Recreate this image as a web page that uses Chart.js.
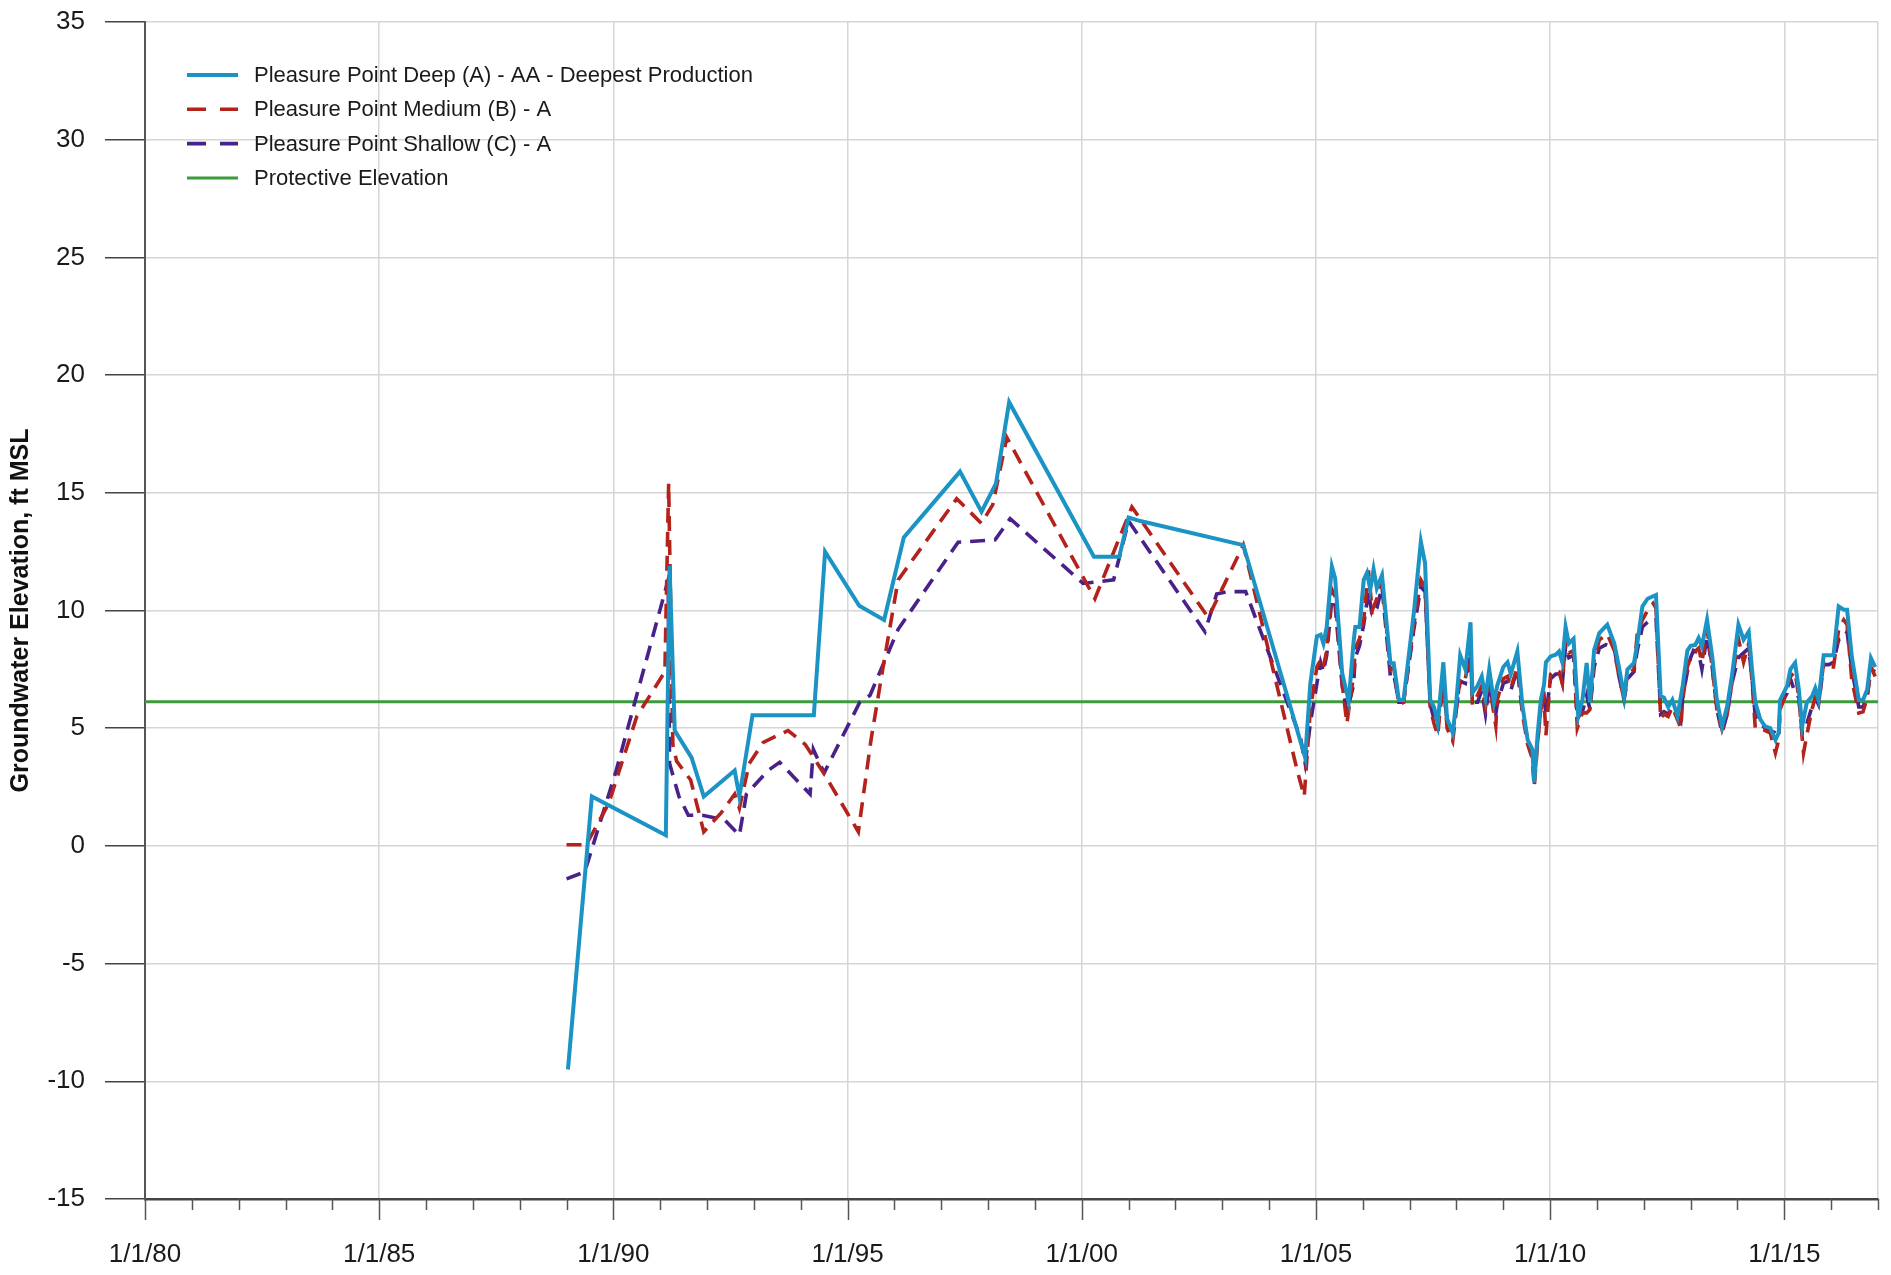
<!DOCTYPE html>
<html>
<head>
<meta charset="utf-8">
<title>Pleasure Point groundwater elevation</title>
<script src="https://cdn.jsdelivr.net/npm/chart.js@4.4.1/dist/chart.umd.min.js"></script>
<style>
  html, body { margin: 0; padding: 0; background: #fff; }
  #wrap { width: 1891px; height: 1275px; }
</style>
</head>
<body>
<div id="wrap"><canvas id="gwChart" width="1891" height="1275"></canvas></div>
<script>
// decimal years and elevations (ft MSL) for each well
const deepYears = [
  1989.03, 1989.54, 1991.12, 1991.20, 1991.31, 1991.67, 1991.93, 1992.59, 1992.69, 1992.97,
  1994.28, 1994.52, 1995.25, 1995.78, 1996.20, 1997.40, 1997.86, 1998.17, 1998.45, 2000.26,
  2000.80, 2001.00, 2001.25, 2003.45, 2004.77, 2004.88, 2005.02, 2005.10, 2005.16, 2005.23,
  2005.34, 2005.41, 2005.56, 2005.70, 2005.80, 2005.84, 2005.93, 2006.02, 2006.09, 2006.16,
  2006.23, 2006.30, 2006.41, 2006.59, 2006.66, 2006.77, 2006.87, 2007.09, 2007.24, 2007.33,
  2007.44, 2007.52, 2007.60, 2007.72, 2007.80, 2007.92, 2008.00, 2008.08, 2008.19, 2008.30,
  2008.34, 2008.45, 2008.54, 2008.62, 2008.70, 2008.80, 2008.87, 2009.00, 2009.09, 2009.16,
  2009.30, 2009.41, 2009.52, 2009.62, 2009.66, 2009.73, 2009.80, 2009.87, 2009.91, 2010.01,
  2010.12, 2010.19, 2010.26, 2010.33, 2010.40, 2010.50, 2010.60, 2010.69, 2010.78, 2010.85,
  2010.94, 2011.05, 2011.22, 2011.37, 2011.47, 2011.58, 2011.65, 2011.79, 2011.86, 2011.97,
  2012.08, 2012.26, 2012.36, 2012.43, 2012.52, 2012.61, 2012.72, 2012.83, 2012.93, 2013.00,
  2013.10, 2013.17, 2013.24, 2013.35, 2013.46, 2013.56, 2013.67, 2013.78, 2013.88, 2014.02,
  2014.13, 2014.24, 2014.31, 2014.38, 2014.49, 2014.59, 2014.70, 2014.81, 2014.88, 2014.91,
  2015.06, 2015.13, 2015.23, 2015.31, 2015.38, 2015.48, 2015.59, 2015.66, 2015.73, 2015.84,
  2015.95, 2016.05, 2016.16, 2016.27, 2016.34, 2016.44, 2016.59, 2016.68, 2016.77, 2016.85,
  2016.94
];
const deepElev = [
  -9.5, 2.1, 0.45, 11.9, 4.9, 3.75, 2.1, 3.2, 2.1, 5.55,
  5.55, 12.5, 10.2, 9.6, 13.1, 15.9, 14.2, 15.4, 18.85, 12.28,
  12.28, 13.95, 13.8, 12.78, 3.75, 6.9, 8.9, 8.97, 8.6, 9.3,
  11.87, 11.37, 7.34, 6.14, 8.6, 9.3, 9.3, 11.3, 11.6, 10.9,
  11.75, 10.95, 11.5, 7.76, 7.76, 6.2, 6.2, 9.9, 12.93, 12.0,
  6.2, 5.9, 5.2, 7.8, 5.4, 4.8, 6.2, 8.1, 7.5, 9.5,
  6.5, 6.8, 7.2, 6.3, 7.5, 6.1, 6.8, 7.6, 7.8, 7.3,
  8.26, 5.93, 4.5, 4.1, 2.7, 4.66, 6.2, 6.85, 7.8, 8.05,
  8.12, 8.26, 7.8, 9.3, 8.6, 8.8, 5.5, 6.2, 7.77, 6.1,
  8.33, 9.04, 9.4, 8.6, 7.6, 6.35, 7.5, 7.77, 8.6, 10.17,
  10.5, 10.66, 6.35, 6.3, 5.9, 6.2, 5.5, 6.8, 8.3, 8.5,
  8.54, 8.83, 8.48, 9.6, 8.05, 6.2, 5.08, 5.93, 7.2, 9.4,
  8.76, 9.1, 7.5, 6.1, 5.36, 5.08, 5.0, 4.5, 4.8, 6.2,
  6.8, 7.5, 7.77, 6.64, 5.08, 6.1, 6.35, 6.7, 6.2, 8.1,
  8.1, 8.1, 10.17, 10.03, 10.03, 8.05, 6.2, 6.2, 6.64, 7.98,
  7.6
];

const mediumYears = [
  1989.00, 1989.42, 1989.90, 1990.50, 1991.10, 1991.18, 1991.27, 1991.35, 1991.65, 1991.93,
  1992.30, 1992.59, 1992.69, 1992.90, 1993.20, 1993.73, 1994.10, 1994.52, 1995.23, 1995.50,
  1995.75, 1996.08, 1997.33, 1997.86, 1998.10, 1998.40, 2000.28, 2001.07, 2002.70, 2003.45,
  2004.60, 2004.75, 2004.88, 2005.02, 2005.10, 2005.16, 2005.23, 2005.34, 2005.41, 2005.56,
  2005.66, 2005.80, 2005.84, 2005.93, 2006.02, 2006.12, 2006.20, 2006.30, 2006.41, 2006.59,
  2006.66, 2006.77, 2006.87, 2007.09, 2007.24, 2007.33, 2007.44, 2007.52, 2007.60, 2007.72,
  2007.80, 2007.92, 2008.00, 2008.08, 2008.19, 2008.30, 2008.34, 2008.45, 2008.54, 2008.62,
  2008.70, 2008.84, 2008.87, 2009.00, 2009.09, 2009.16, 2009.30, 2009.41, 2009.52, 2009.62,
  2009.66, 2009.73, 2009.80, 2009.87, 2009.91, 2010.01, 2010.12, 2010.19, 2010.26, 2010.33,
  2010.40, 2010.50, 2010.58, 2010.69, 2010.78, 2010.85, 2010.94, 2011.05, 2011.22, 2011.37,
  2011.47, 2011.58, 2011.65, 2011.79, 2011.86, 2011.97, 2012.08, 2012.20, 2012.26, 2012.36,
  2012.43, 2012.52, 2012.61, 2012.79, 2012.83, 2012.93, 2013.00, 2013.06, 2013.17, 2013.24,
  2013.35, 2013.46, 2013.56, 2013.67, 2013.78, 2013.88, 2014.02, 2014.13, 2014.24, 2014.31,
  2014.38, 2014.49, 2014.59, 2014.70, 2014.81, 2014.88, 2014.91, 2015.06, 2015.13, 2015.23,
  2015.31, 2015.41, 2015.48, 2015.59, 2015.66, 2015.73, 2015.84, 2015.95, 2016.05, 2016.16,
  2016.27, 2016.34, 2016.44, 2016.59, 2016.68, 2016.77, 2016.85, 2016.94
];
const mediumElev = [
  0.05, 0.05, 1.8, 5.5, 7.4, 15.4, 4.3, 3.6, 2.8, 0.6,
  1.4, 2.2, 1.6, 3.5, 4.4, 4.9, 4.3, 3.0, 0.6, 4.5,
  7.5, 11.3, 14.75, 13.7, 14.5, 17.35, 10.5, 14.4, 9.7, 12.78,
  3.2, 2.1, 5.8, 7.6, 7.9, 7.6, 8.3, 10.9, 10.6, 6.9,
  5.2, 7.2, 8.4, 8.8, 9.6, 11.7, 10.0, 10.5, 11.3, 7.5,
  7.6, 6.0, 6.1, 9.4, 11.3, 11.0, 5.9, 5.2, 4.7, 7.2,
  5.0, 4.45, 5.8, 7.2, 7.1, 8.4, 6.0, 6.4, 6.8, 5.9,
  6.9, 5.1, 6.2, 7.1, 7.2, 6.7, 7.6, 5.6, 4.3, 3.7,
  2.5, 4.3, 5.8, 6.2, 4.7, 7.3, 7.5, 7.4, 6.9, 8.8,
  8.2, 8.3, 5.0, 5.65, 5.65, 5.8, 7.9, 8.75, 9.0, 8.3,
  7.2, 6.2, 7.3, 7.5, 9.0, 9.6, 10.0, 10.3, 10.1, 5.4,
  5.6, 5.5, 5.9, 5.0, 6.2, 7.6, 8.0, 8.2, 8.4, 7.8,
  9.2, 7.6, 5.8, 4.95, 5.6, 6.9, 8.8, 7.8, 8.6, 7.0,
  5.0, 5.0, 4.9, 4.8, 3.95, 4.5, 5.8, 6.6, 7.2, 7.4,
  6.3, 3.95, 4.7, 5.8, 6.3, 6.0, 7.8, 7.6, 7.6, 9.2,
  9.6, 9.4, 7.06, 5.65, 5.7, 6.3, 7.6, 7.2
];

const shallowYears = [
  1989.00, 1989.39, 1990.06, 1991.17, 1991.20, 1991.40, 1991.60, 1991.90, 1992.38, 1992.69,
  1992.84, 1993.30, 1993.55, 1994.20, 1994.27, 1994.50, 1995.26, 1995.48, 1996.08, 1997.36,
  1998.15, 1998.47, 2000.03, 2000.68, 2001.00, 2002.63, 2002.88, 2003.10, 2003.50, 2004.67,
  2004.77, 2004.88, 2005.02, 2005.10, 2005.16, 2005.23, 2005.34, 2005.41, 2005.56, 2005.66,
  2005.80, 2005.84, 2005.93, 2006.02, 2006.12, 2006.20, 2006.30, 2006.41, 2006.59, 2006.66,
  2006.77, 2006.87, 2007.09, 2007.24, 2007.33, 2007.44, 2007.52, 2007.60, 2007.72, 2007.80,
  2007.92, 2008.00, 2008.08, 2008.19, 2008.30, 2008.34, 2008.45, 2008.54, 2008.62, 2008.70,
  2008.84, 2008.87, 2009.00, 2009.09, 2009.16, 2009.30, 2009.41, 2009.52, 2009.62, 2009.66,
  2009.73, 2009.80, 2009.87, 2009.91, 2010.01, 2010.12, 2010.19, 2010.26, 2010.33, 2010.40,
  2010.50, 2010.58, 2010.69, 2010.78, 2010.85, 2010.94, 2011.05, 2011.19, 2011.37, 2011.47,
  2011.58, 2011.65, 2011.79, 2011.86, 2011.97, 2012.08, 2012.18, 2012.26, 2012.36, 2012.43,
  2012.52, 2012.61, 2012.79, 2012.83, 2012.93, 2013.00, 2013.06, 2013.17, 2013.24, 2013.35,
  2013.46, 2013.56, 2013.67, 2013.78, 2013.88, 2014.02, 2014.13, 2014.24, 2014.31, 2014.38,
  2014.49, 2014.59, 2014.70, 2014.81, 2014.88, 2014.91, 2015.06, 2015.13, 2015.23, 2015.31,
  2015.38, 2015.48, 2015.59, 2015.66, 2015.73, 2015.84, 2015.95, 2016.05, 2016.16, 2016.27,
  2016.34, 2016.44, 2016.59, 2016.68, 2016.77, 2016.85, 2016.94
];
const shallowElev = [
  -1.4, -1.1, 3.2, 11.3, 3.5, 2.1, 1.3, 1.3, 1.1, 0.45,
  2.2, 3.2, 3.55, 2.2, 4.1, 3.1, 6.1, 6.4, 9.2, 12.9,
  13.0, 13.9, 11.15, 11.3, 13.8, 9.1, 10.7, 10.8, 10.8, 4.6,
  3.5, 5.2, 6.9, 7.8, 7.4, 8.1, 10.5, 10.2, 6.8, 5.7,
  6.8, 8.0, 8.5, 9.4, 10.8, 9.8, 10.1, 11.0, 7.2, 7.3,
  6.1, 6.1, 9.2, 11.0, 10.8, 6.0, 5.4, 5.0, 7.0, 5.2,
  4.9, 5.9, 7.0, 6.9, 8.2, 6.1, 6.1, 6.6, 5.6, 6.8,
  5.6, 6.0, 6.9, 7.0, 6.6, 7.5, 5.7, 4.5, 3.9, 2.8,
  4.4, 5.9, 6.3, 5.6, 7.1, 7.3, 7.3, 6.9, 8.5, 8.0,
  8.1, 5.4, 5.7, 6.4, 5.8, 7.6, 8.4, 8.55, 8.4, 7.2,
  6.2, 7.1, 7.4, 8.3, 9.3, 9.5, 9.6, 9.7, 5.6, 5.7,
  5.6, 5.9, 5.3, 6.3, 7.4, 8.0, 8.3, 8.2, 7.5, 8.9,
  7.6, 5.8, 4.8, 5.6, 6.9, 8.0, 8.2, 8.4, 7.1, 5.5,
  5.2, 5.0, 4.9, 4.8, 4.7, 5.9, 6.5, 7.1, 6.5, 6.3,
  4.8, 5.2, 5.9, 6.3, 6.0, 7.7, 7.7, 7.8, 8.76, 8.8,
  9.1, 7.5, 5.9, 5.9, 6.4, 7.5, 7.4
];

const protectiveElev = 6.12;
const yearRange = [1980, 2017];
const yTicks = { min: -15, max: 35, step: 5 };

const FONT = '"Liberation Sans", Arial, Helvetica, sans-serif';
Chart.defaults.font.family = FONT;

function toPoints(xs, ys) {
  return xs.map((x, i) => ({ x: x, y: ys[i] }));
}

// legend drawn inside the plot, upper left
const insideLegend = {
  id: 'insideLegend',
  afterDraw(chart) {
    const ctx = chart.ctx;
    const area = chart.chartArea;
    const x0 = area.left + 42;
    const y0 = area.top + 53;
    ctx.save();
    ctx.font = '22px ' + FONT;
    ctx.textBaseline = 'middle';
    chart.data.datasets.forEach((ds, i) => {
      const y = y0 + i * 34.3;
      ctx.strokeStyle = ds.borderColor;
      ctx.lineWidth = ds.borderWidth;
      ctx.setLineDash(ds.borderDash ? [19, 14] : []);
      ctx.beginPath();
      ctx.moveTo(x0, y);
      ctx.lineTo(x0 + 51, y);
      ctx.stroke();
      ctx.setLineDash([]);
      ctx.fillStyle = '#1a1a1a';
      ctx.fillText(ds.label, x0 + 67, y + 1);
    });
    ctx.restore();
  }
};

// yearly tick marks under the date axis, longer every 5 years
const yearTicks = {
  id: 'yearTicks',
  afterDraw(chart) {
    const xs = chart.scales.x;
    const ctx = chart.ctx;
    ctx.save();
    ctx.strokeStyle = '#555';
    ctx.lineWidth = 1.5;
    for (let yr = yearRange[0]; yr <= yearRange[1]; yr++) {
      const px = Math.round(xs.getPixelForValue(yr)) + 0.5;
      const len = yr % 5 === 0 ? 21 : 11;
      ctx.beginPath();
      ctx.moveTo(px, xs.top);
      ctx.lineTo(px, xs.top + len);
      ctx.stroke();
    }
    ctx.restore();
  }
};

new Chart(document.getElementById('gwChart'), {
  type: 'line',
  data: {
    datasets: [
      {
        label: 'Pleasure Point Deep (A) - AA - Deepest Production',
        data: toPoints(deepYears, deepElev),
        borderColor: '#1b93c4',
        borderWidth: 4
      },
      {
        label: 'Pleasure Point Medium (B) - A',
        data: toPoints(mediumYears, mediumElev),
        borderColor: '#b3231c',
        borderWidth: 3.6,
        borderDash: [15, 9]
      },
      {
        label: 'Pleasure Point Shallow (C) - A',
        data: toPoints(shallowYears, shallowElev),
        borderColor: '#4a2189',
        borderWidth: 3.6,
        borderDash: [15, 9]
      },
      {
        label: 'Protective Elevation',
        data: toPoints(yearRange, [protectiveElev, protectiveElev]),
        borderColor: '#3d9b3d',
        borderWidth: 3
      }
    ]
  },
  options: {
    responsive: false,
    animation: false,
    devicePixelRatio: 1,
    elements: {
      point: { radius: 0 },
      line: { tension: 0, fill: false, borderCapStyle: 'butt' }
    },
    layout: { padding: { left: 0, right: 13, top: 22, bottom: 0 } },
    scales: {
      x: {
        type: 'linear',
        min: yearRange[0],
        max: yearRange[1],
        afterFit: (scale) => {
          scale.height = 76;
          scale.paddingLeft = 0;
          scale.paddingRight = 0;
        },
        ticks: {
          stepSize: 1,
          autoSkip: false,
          maxRotation: 0,
          padding: 40,
          color: '#1a1a1a',
          font: { size: 26 },
          callback: function(value) {
            const yr = Math.round(value);
            return yr % 5 === 0 ? '1/1/' + String(yr).slice(2) : '';
          }
        },
        grid: {
          drawTicks: false,
          lineWidth: 1.5,
          color: function(c) {
            const yr = Math.round(c.tick.value);
            return (yr % 5 === 0 || yr === yearRange[1]) ? '#d6d6d6' : 'rgba(0,0,0,0)';
          }
        },
        border: { color: '#444', width: 2.5 }
      },
      y: {
        min: yTicks.min,
        max: yTicks.max,
        afterFit: (scale) => {
          scale.width = 145;
          scale.paddingTop = 0;
          scale.paddingBottom = 0;
        },
        ticks: {
          stepSize: yTicks.step,
          padding: 20,
          color: '#1a1a1a',
          font: { size: 26 }
        },
        grid: {
          color: '#d6d6d6',
          lineWidth: 1.5,
          tickColor: '#444',
          tickLength: 40,
          tickWidth: 1.5
        },
        border: { color: '#555', width: 2 },
        title: {
          display: true,
          text: 'Groundwater Elevation, ft MSL',
          color: '#111',
          font: { size: 25, weight: 'bold' },
          padding: { top: 6, bottom: 0 }
        }
      }
    },
    plugins: {
      legend: { display: false },
      tooltip: { enabled: false }
    }
  },
  plugins: [insideLegend, yearTicks]
});
</script>
</body>
</html>
